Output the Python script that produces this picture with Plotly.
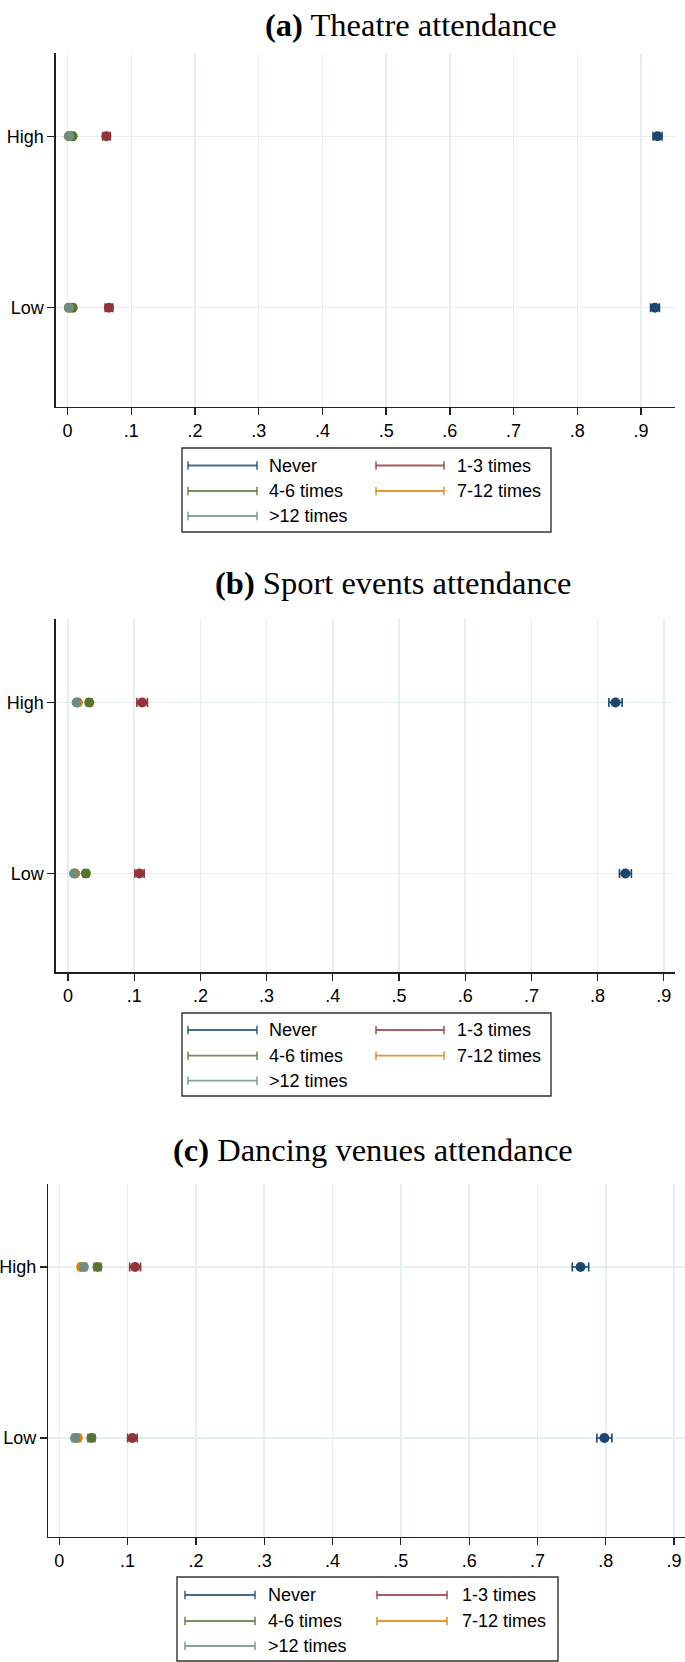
import plotly.graph_objects as go

W, H = 685, 1662

# ---------------- data ----------------
series = ["Never", "1-3 times", "4-6 times", "7-12 times", ">12 times"]
colors = ["#1a476f", "#90353b", "#55752f", "#e37e00", "#6e8e84"]
levels = ["High", "Low"]
tick_vals = [0, 0.1, 0.2, 0.3, 0.4, 0.5, 0.6, 0.7, 0.8, 0.9]
tick_text = ["0", ".1", ".2", ".3", ".4", ".5", ".6", ".7", ".8", ".9"]
titles = ["<b>(a)</b> Theatre attendance",
          "<b>(b)</b> Sport events attendance",
          "<b>(c)</b> Dancing venues attendance"]

# means per series, order: [High, Low]
theatre_mean = [[0.926, 0.922], [0.061, 0.065], [0.008, 0.008], [0.002, 0.002], [0.002, 0.002]]
theatre_ci = [[0.007, 0.007], [0.006, 0.006], [0.003, 0.003], [0.002, 0.002], [0.002, 0.002]]

sport_mean = [[0.827, 0.842], [0.112, 0.108], [0.032, 0.027], [0.015, 0.011], [0.013, 0.009]]
sport_ci = [[0.010, 0.009], [0.008, 0.007], [0.004, 0.004], [0.003, 0.003], [0.003, 0.003]]

dancing_mean = [[0.763, 0.798], [0.111, 0.107], [0.056, 0.047], [0.032, 0.027], [0.036, 0.023]]
dancing_ci = [[0.012, 0.011], [0.008, 0.007], [0.005, 0.005], [0.004, 0.004], [0.004, 0.004]]

panels_mean = [theatre_mean, sport_mean, dancing_mean]
panels_ci = [theatre_ci, sport_ci, dancing_ci]

# ---------------- layout geometry (pixels) ----------------
plot_boxes = [  # x0, x1, ytop, ybottom
    (55.7, 675.4, 53.0, 406.7),
    (55.7, 675.4, 619.3, 972.3),
    (48.3, 685.0, 1184.0, 1536.7),
]
x_ranges = [(-0.0186, 0.954), (-0.0186, 0.9175), (-0.0161, 0.916)]
y_range = (-0.578, 1.486)
title_pos = [(411, 25), (393, 583), (373, 1150)]
legend_boxes = [
    dict(box=(182, 551, 448, 532), rows=(465.5, 491, 516), cols=((188, 257, 267), (376, 444, 455))),
    dict(box=(182, 551, 1013, 1096), rows=(1030, 1055.7, 1080.7), cols=((188, 257, 267), (376, 444, 455))),
    dict(box=(177, 558, 1577, 1661), rows=(1595, 1621, 1646), cols=((185, 255, 266), (377, 447, 460))),
]


def px(x):
    return x / W


def py(y):
    return 1 - y / H


fig = go.Figure()
shapes = []
annotations = []

axis_color = "#222222"
grid_color = "#e5eef1"
sans = "Liberation Sans, Arial, Helvetica, sans-serif"
serif = "Liberation Serif, Times New Roman, serif"
FS = 18

for p in range(3):
    suffix = "" if p == 0 else str(p + 1)
    xa, ya = "x" + suffix, "y" + suffix
    means, cis = panels_mean[p], panels_ci[p]
    for s, name in enumerate(series):
        fig.add_trace(go.Scatter(
            x=means[s], y=levels, mode="markers", name=name,
            xaxis=xa, yaxis=ya, showlegend=False,
            marker=dict(color=colors[s], size=10, line=dict(width=0)),
            error_x=dict(type="data", array=cis[s], visible=True,
                         color=colors[s], thickness=1.6, width=4.5),
        ))
    x0, x1, yt, yb = plot_boxes[p]
    fig.update_layout(**{
        "xaxis" + suffix: dict(
            domain=[px(x0), px(x1)], anchor=ya, range=list(x_ranges[p]),
            automargin=False,
            tickvals=tick_vals, ticktext=tick_text,
            ticks="outside", ticklen=7, tickwidth=1.3, tickcolor=axis_color,
            showline=True, linecolor=axis_color, linewidth=1.4,
            showgrid=True, gridcolor=grid_color, gridwidth=1.5, zeroline=False,
            tickfont=dict(family=sans, size=FS, color="black"),
        ),
        "yaxis" + suffix: dict(
            domain=[py(yb), py(yt)], anchor=xa, type="category",
            categoryorder="array", categoryarray=["Low", "High"],
            range=list(y_range), automargin=False,
            ticks="outside", ticklen=7, tickwidth=1.3, tickcolor=axis_color,
            showline=True, linecolor=axis_color, linewidth=1.4,
            showgrid=True, gridcolor=grid_color, gridwidth=1.5, zeroline=False,
            tickfont=dict(family=sans, size=FS, color="black"),
        ),
    })

    # title
    tx, ty = title_pos[p]
    annotations.append(dict(
        x=px(tx), y=py(ty), xref="paper", yref="paper", xanchor="center", yanchor="middle",
        text=titles[p], showarrow=False, font=dict(family=serif, size=32.5, color="black"),
    ))

    # legend (manual, to reproduce capped-line keys in two columns)
    lg = legend_boxes[p]
    bx0, bx1, by0, by1 = lg["box"]
    shapes.append(dict(type="rect", xref="paper", yref="paper",
                       x0=px(bx0), x1=px(bx1), y0=py(by1), y1=py(by0),
                       line=dict(color="#333333", width=1.4), fillcolor="rgba(0,0,0,0)"))
    for s, name in enumerate(series):
        row, col = s // 2, s % 2
        ry = lg["rows"][row]
        lx0, lx1, tx0 = lg["cols"][col]
        shapes.append(dict(type="line", xref="paper", yref="paper",
                           x0=px(lx0), x1=px(lx1), y0=py(ry), y1=py(ry),
                           line=dict(color=colors[s], width=1.8), opacity=0.8))
        for cx in (lx0, lx1):
            shapes.append(dict(type="line", xref="paper", yref="paper",
                               x0=px(cx), x1=px(cx), y0=py(ry - 4.3), y1=py(ry + 4.3),
                               line=dict(color=colors[s], width=1.6), opacity=0.8))
        annotations.append(dict(
            x=px(tx0), y=py(ry), xref="paper", yref="paper", xanchor="left", yanchor="middle",
            text=name, showarrow=False, font=dict(family=sans, size=FS, color="black"),
        ))

fig.update_layout(
    width=W, height=H, autosize=False,
    margin=dict(l=0, r=0, t=0, b=0, pad=0),
    paper_bgcolor="white", plot_bgcolor="white",
    shapes=shapes, annotations=annotations,
    showlegend=False,
)

# remove the browser's default 8px body margin so the figure fills the window exactly
fig.write_html(
    "out.html",
    config={"displayModeBar": False, "staticPlot": True},
    post_script="document.body.style.margin='0';document.body.style.overflow='hidden';",
)
